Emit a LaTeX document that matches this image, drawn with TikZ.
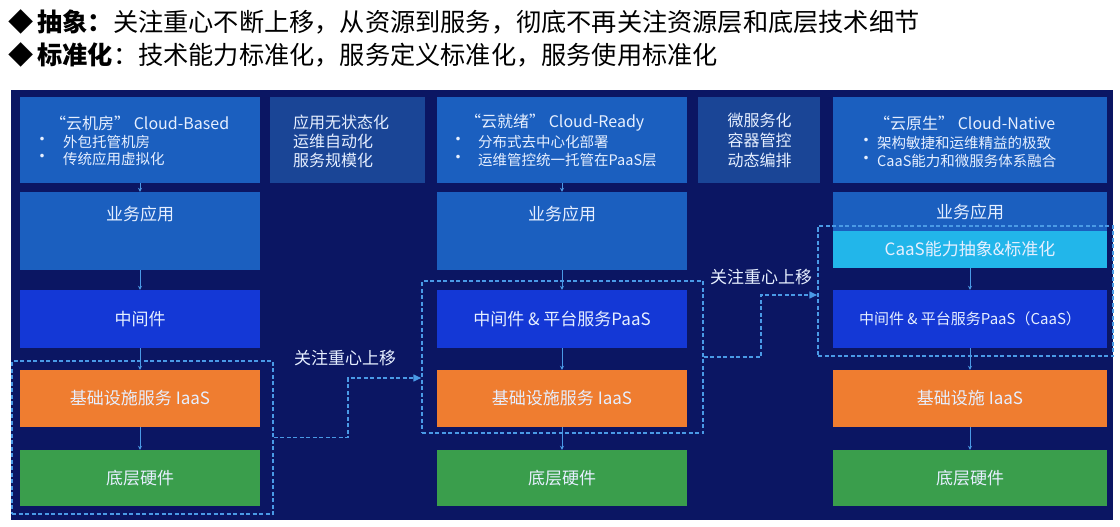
\documentclass[tikz,border=0pt]{standalone}
\usepackage{fontspec}
\setmainfont{Noto Sans CJK SC}
\usetikzlibrary{arrows.meta,calc}
\definecolor{bgc}{HTML}{0B1663}
\definecolor{topb}{HTML}{1B5FBF}
\definecolor{midb}{HTML}{1A4596}
\definecolor{paasb}{HTML}{1438D6}
\definecolor{orng}{HTML}{EF7D30}
\definecolor{grn}{HTML}{3A9E4C}
\definecolor{cyn}{HTML}{22B6EA}
\definecolor{dashc}{HTML}{4A9AE6}
\definecolor{txt}{HTML}{E6EFFF}
\tikzset{
  blk/.style={draw=none, inner sep=0pt, text=txt, font=\fontsize{17}{20}\selectfont},
  lbl/.style={inner sep=0pt, text=txt, font=\fontsize{17}{20}\selectfont},
  sml/.style={inner sep=0pt, text=txt, font=\fontsize{14.5}{17}\selectfont, anchor=west},
  ttl/.style={inner sep=0pt, text=txt, font=\fontsize{16}{19}\selectfont, anchor=west},
  bul/.style={inner sep=0pt, text=txt, font=\fontsize{17}{19}\selectfont},
  varr/.style={draw=dashc, line width=1pt, -{Stealth[length=4pt,width=4pt]}},
  dbox/.style={draw=dashc, line width=1.5pt, dash pattern=on 4pt off 2.5pt, inner sep=0pt, fill=none},
  conn/.style={draw=dashc, line width=1.5pt, dash pattern=on 4pt off 2.5pt, -{Triangle[length=8pt,width=7pt]}},
  hdr/.style={inner sep=0pt, anchor=west, text=black},
}
\begin{document}
\begin{tikzpicture}[x=1pt,y=-1pt]
\useasboundingbox (0,0) rectangle (1120,527);
\fill[white] (0,0) rectangle (1120,527);
% header
\node[hdr, font=\fontsize{25.2}{30}\selectfont] (h1) at (8,22) {◆\,\textbf{抽象：}关注重心不断上移，从资源到服务，彻底不再关注资源层和底层技术细节};
\node[hdr, font=\fontsize{25.2}{30}\selectfont] (h2) at (8,55) {◆\,\textbf{标准化}：技术能力标准化，服务定义标准化，服务使用标准化};
% background
\fill[bgc] (11,90) rectangle (1113,520);
% column 1
\node[blk, fill=topb, minimum width=240, minimum height=86] (top1) at (140,140) {};
\node[blk, fill=topb, minimum width=240, minimum height=78] (app1) at (140,231) {};
\node[blk, fill=paasb, minimum width=240, minimum height=58] (mid1) at (140,319) {中间件};
\node[blk, fill=orng, minimum width=240, minimum height=57] (iaas1) at (140,398.5) {基础设施服务 IaaS};
\node[blk, fill=grn, minimum width=240, minimum height=56] (hw1) at (140,478) {底层硬件};
\node[lbl] (app1t) at ($(app1.north)+(0,22)$) {业务应用};
\node[ttl] (t1) at (50,123) {“云机房” Cloud-Based};
\node[bul] (b11) at (42,141) {•};
\node[sml] (s11) at (63,142) {外包托管机房};
\node[bul] (b12) at (42,158) {•};
\node[sml] (s12) at (63,159) {传统应用虚拟化};
% middle text box 1
\node[blk, fill=midb, minimum width=155, minimum height=86] (m1) at (347.5,140) {};
\node[lbl, align=left, font=\fontsize{16}{19}\selectfont] (m1t) at (341,141) {应用无状态化\\运维自动化\\服务规模化};
% column 2
\node[blk, fill=topb, minimum width=250, minimum height=86] (top2) at (562,140) {};
\node[blk, fill=topb, minimum width=250, minimum height=78] (app2) at (562,231) {};
\node[blk, fill=paasb, minimum width=250, minimum height=58] (mid2) at (562,319) {中间件 \& 平台服务PaaS};
\node[blk, fill=orng, minimum width=250, minimum height=57] (iaas2) at (562,398.5) {基础设施服务 IaaS};
\node[blk, fill=grn, minimum width=250, minimum height=56] (hw2) at (562,478) {底层硬件};
\node[lbl] (app2t) at ($(app2.north)+(0,22)$) {业务应用};
\node[ttl] (t2) at (465,123) {“云就绪” Cloud-Ready};
\node[bul] (b21) at (458,141) {•};
\node[sml] (s21) at (478,142) {分布式去中心化部署};
\node[bul] (b22) at (458,159) {•};
\node[sml] (s22) at (478,160) {运维管控统一托管在PaaS层};
% middle text box 2
\node[blk, fill=midb, minimum width=122, minimum height=86] (m2) at (759,140) {};
\node[lbl, align=center, font=\fontsize{16}{20}\selectfont] (m2t) at (759.5,140) {微服务化\\容器管控\\动态编排};
% column 3
\node[blk, fill=topb, minimum width=274, minimum height=86] (top3) at (970,140) {};
\node[blk, fill=topb, minimum width=274, minimum height=76] (app3) at (970,230) {};
\node[blk, fill=cyn, minimum width=274, minimum height=37] (cyan3) at (970,249.5) {CaaS能力抽象\&标准化};
\node[blk, fill=paasb, minimum width=274, minimum height=58, font=\fontsize{15}{18}\selectfont] (mid3) at (970,319) {中间件 \& 平台服务PaaS（CaaS）};
\node[blk, fill=orng, minimum width=274, minimum height=57] (iaas3) at (970,398.5) {基础设施 IaaS};
\node[blk, fill=grn, minimum width=274, minimum height=56] (hw3) at (970,478) {底层硬件};
\node[lbl] (app3t) at ($(app3.north)+(0,20)$) {业务应用};
\node[ttl] (t3) at (874,123) {“云原生” Cloud-Native};
\node[bul] (b31) at (866,142) {•};
\node[sml] (s31) at (877,143) {架构敏捷和运维精益的极致};
\node[bul] (b32) at (866,160) {•};
\node[sml] (s32) at (877,161) {CaaS能力和微服务体系融合};
% vertical arrows
\foreach \c in {1,2}{
  \draw[varr] (top\c) -- (app\c);
  \draw[varr] (app\c) -- (mid\c);
  \draw[varr] (mid\c) -- (iaas\c);
  \draw[varr] (iaas\c) -- (hw\c);
}
\draw[varr] (cyan3) -- (mid3);
\draw[varr] (mid3) -- (iaas3);
\draw[varr] (iaas3) -- (hw3);
% dashed groups
\node[dbox, minimum width=261, minimum height=153] (d1) at (142.5,437.5) {};
\node[dbox, minimum width=281, minimum height=152] (d2) at (562.5,357) {};
\node[dbox, minimum width=295, minimum height=130] (d3) at (965.5,291) {};
% connectors
\draw[conn] (d1.east) -- ++(74,0) |- ([yshift=-21pt]d2.west);
\draw[conn] (d2.east) -- ++(57,0) |- ([yshift=-4pt]d3.west);
\node[lbl] (f1) at (345,358) {关注重心上移};
\node[lbl] (f2) at (761,277) {关注重心上移};
\end{tikzpicture}
\end{document}
